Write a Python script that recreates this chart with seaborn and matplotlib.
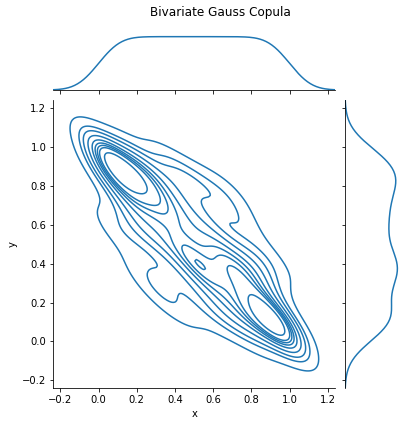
import pandas as pd
import seaborn as sns
import matplotlib
matplotlib.use('Agg')
import matplotlib.pyplot as plt

# sample from the copula, lower-left half of x (y mostly high)
x_lo = [0.004, 0.016, 0.025, 0.034, 0.046, 0.055, 0.066, 0.074, 0.086, 0.095,
        0.104, 0.116, 0.125, 0.136, 0.144, 0.155, 0.166, 0.175, 0.184, 0.196,
        0.205, 0.214, 0.226, 0.235, 0.244, 0.256, 0.265, 0.274, 0.286, 0.295,
        0.304, 0.316, 0.325, 0.334, 0.346, 0.355, 0.364, 0.376, 0.385, 0.394,
        0.406, 0.415, 0.424, 0.436, 0.445, 0.454, 0.466, 0.475, 0.484, 0.496]
y_lo = [0.991, 0.887, 0.982, 0.908, 0.989, 0.812, 0.910, 0.568, 0.960, 0.843,
        0.917, 0.591, 0.836, 0.948, 0.702, 0.859, 0.781, 0.971, 0.593, 0.840,
        0.669, 0.874, 0.330, 0.764, 0.666, 0.903, 0.545, 0.810, 0.360, 0.686,
        0.863, 0.506, 0.731, 0.220, 0.937, 0.586, 0.744, 0.325, 0.660, 0.472,
        0.840, 0.560, 0.744, 0.160, 0.586, 0.446, 0.857, 0.306, 0.629, 0.439]

# upper-right half of x (y mostly low)
x_hi = [0.995, 0.984, 0.975, 0.966, 0.955, 0.944, 0.935, 0.926, 0.915, 0.904,
        0.895, 0.886, 0.875, 0.864, 0.855, 0.846, 0.835, 0.824, 0.815, 0.806,
        0.795, 0.784, 0.775, 0.766, 0.755, 0.744, 0.735, 0.726, 0.715, 0.704,
        0.695, 0.686, 0.675, 0.664, 0.655, 0.646, 0.635, 0.624, 0.615, 0.606,
        0.595, 0.584, 0.575, 0.566, 0.555, 0.544, 0.535, 0.526, 0.515, 0.504]
y_hi = [0.006, 0.103, 0.043, 0.121, 0.015, 0.126, 0.074, 0.412, 0.056, 0.157,
        0.045, 0.293, 0.164, 0.115, 0.415, 0.039, 0.304, 0.184, 0.407, 0.114,
        0.294, 0.034, 0.413, 0.205, 0.620, 0.279, 0.394, 0.150, 0.343, 0.760,
        0.185, 0.429, 0.107, 0.384, 0.675, 0.292, 0.554, 0.159, 0.467, 0.373,
        0.803, 0.293, 0.554, 0.129, 0.467, 0.397, 0.686, 0.330, 0.814, 0.387]

copula = pd.DataFrame({'x': x_lo + x_hi, 'y': y_lo + y_hi})

g = sns.jointplot(data=copula, x='x', y='y', kind='kde', height=6,
                  joint_kws=dict(bw_adjust=0.75),
                  marginal_kws=dict(bw_adjust=0.8))

fig = g.figure
fig.set_size_inches(400 / 72, 426 / 72)
g.ax_joint.set_position([0.1333, 0.0892, 0.7043, 0.6761])
g.ax_marg_x.set_position([0.1333, 0.7887, 0.7043, 0.1315])
g.ax_marg_y.set_position([0.8625, 0.0892, 0.1375, 0.6761])

g.ax_joint.set_xlim(-0.237, 1.238)
g.ax_joint.set_ylim(-0.240, 1.243)

fig.suptitle("Bivariate Gauss Copula", x=0.55, y=0.987, va='top')

fig.savefig("out.png", dpi=72)
